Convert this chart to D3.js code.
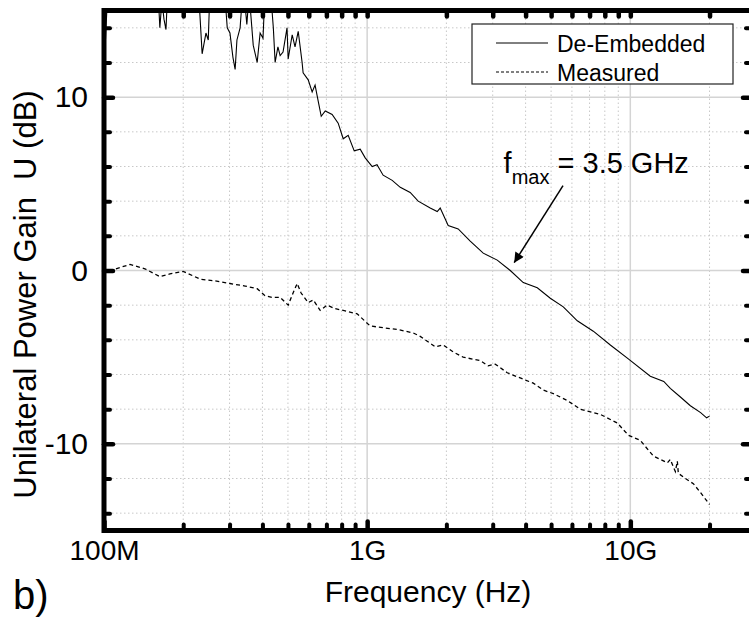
<!DOCTYPE html>
<html>
<head>
<meta charset="utf-8">
<script src="https://cdn.jsdelivr.net/npm/d3@7"></script>
<style>
  body { margin: 0; background: #fff; }
  text { font-family: "Liberation Sans", Arial, sans-serif; fill: #000; }
</style>
</head>
<body>
<div class="content"></div>
<script>
// frequency in GHz, gain in dB
var deFreq = [0.100, 0.101, 0.1036, 0.160, 0.163, 0.166, 0.169, 0.172, 0.175, 0.228, 0.236, 0.244, 0.249, 0.253,
    0.286, 0.294, 0.301, 0.309, 0.315, 0.320, 0.329, 0.338, 0.349, 0.356, 0.369, 0.382, 0.392, 0.402, 0.410,
    0.430, 0.440, 0.447, 0.458, 0.467, 0.479, 0.496, 0.501, 0.519, 0.532, 0.547, 0.566, 0.571, 0.597, 0.618,
    0.634, 0.651, 0.669, 0.693, 0.736, 0.776, 0.811, 0.847, 0.893, 0.941, 0.983, 1.045, 1.09, 1.15, 1.245,
    1.336, 1.457, 1.563, 1.736, 1.846, 1.895, 2.032, 2.218, 2.464, 2.761, 3.121, 3.498, 3.919, 4.431, 4.965,
    5.563, 6.288, 7.233, 8.395, 9.827, 11.91, 13.4, 14.19, 15.5, 16.91, 18.5, 19.5, 20.0];
var deGain = [12.3, 12.9, 16.5, 16.5, 14.0, 15.6, 14.5, 13.9, 16.5, 16.5, 12.5, 13.7, 13.3, 16.5,
    16.5, 14.0, 13.7, 12.3, 11.6, 13.3, 14.0, 16.5, 14.2, 16.0, 13.0, 12.0, 13.7, 13.4, 16.5,
    16.0, 14.0, 12.0, 12.9, 12.4, 12.6, 14.0, 12.2, 13.6, 12.9, 13.8, 12.0, 11.4, 11.0, 10.3,
    10.7, 9.8, 8.9, 9.2, 9.0, 8.5, 7.6, 7.8, 6.9, 7.0, 6.5, 6.0, 6.1, 5.5, 5.2,
    4.8, 4.5, 4.0, 3.6, 3.4, 3.6, 2.6, 2.4, 1.7, 1.0, 0.6, 0.0, -0.7, -1.0, -1.6,
    -2.1, -2.9, -3.5, -4.3, -5.1, -6.1, -6.4, -6.8, -7.3, -7.8, -8.2, -8.5, -8.4];

var msFreq = [0.111, 0.1256, 0.143, 0.163, 0.178, 0.200, 0.232, 0.264, 0.301, 0.344, 0.382, 0.409, 0.435,
    0.467, 0.501, 0.523, 0.542, 0.561, 0.597, 0.624, 0.663, 0.704, 0.755, 0.811, 0.916, 1.027, 1.150,
    1.300, 1.496, 1.591, 1.814, 1.945, 2.123, 2.317, 2.690, 2.884, 3.067, 3.407, 3.816, 4.278, 4.669,
    5.097, 5.761, 6.454, 7.691, 8.925, 9.827, 10.91, 12.23, 13.83, 14.19, 14.83, 15.09, 15.22, 16.19,
    17.36, 18.46, 20.0];
var msGain = [0.1, 0.35, 0.1, -0.35, -0.2, -0.05, -0.5, -0.6, -0.75, -0.9, -1.05, -1.45, -1.55,
    -1.55, -2.0, -1.3, -0.75, -1.3, -1.85, -1.7, -2.3, -2.0, -2.2, -2.3, -2.5, -3.2, -3.3,
    -3.4, -3.6, -3.8, -4.4, -4.3, -4.7, -5.0, -5.2, -5.5, -5.4, -5.9, -6.2, -6.5, -6.9,
    -7.1, -7.5, -8.0, -8.3, -8.8, -9.5, -9.8, -10.7, -11.1, -10.9, -11.6, -11.0, -11.7, -12.0,
    -12.3, -12.8, -13.5];

var xMajor = [0.1, 1, 10];
var xLabels = ["100M", "1G", "10G"];
var xMinor = [0.2, 0.3, 0.4, 0.5, 0.6, 0.7, 0.8, 0.9, 2, 3, 4, 5, 6, 7, 8, 9, 20];
var yMajor = [-10, 0, 10];
var yLabels = ["-10", "0", "10"];
var yMinor = [-14, -12, -8, -6, -4, -2, 2, 4, 6, 8, 12, 14];
var seriesNames = ["De-Embedded", "Measured"];

// set the dimensions and margins of the graph
var margin = {top: 10.5, right: -3, bottom: 87.5, left: 104},
    width = 749 - margin.left - margin.right,
    height = 618 - margin.top - margin.bottom;

var svg = d3.select(".content")
    .append("svg")
    .attr("width", 749)
    .attr("height", 618)
    .append("g")
    .attr("transform", "translate(" + margin.left + "," + margin.top + ")");

var x = d3.scaleLog()
    .domain([0.1, 29])
    .range([0, width]);
var y = d3.scaleLinear()
    .domain([-15, 15])
    .range([height, 0]);

// grid
svg.append("g").selectAll("line").data(xMinor).enter().append("line")
    .attr("x1", function(d) { return x(d); }).attr("x2", function(d) { return x(d); })
    .attr("y1", 0).attr("y2", height)
    .attr("stroke", "#c8c8c8").attr("stroke-dasharray", "1.5,2.5");
svg.append("g").selectAll("line").data(yMinor).enter().append("line")
    .attr("y1", function(d) { return y(d); }).attr("y2", function(d) { return y(d); })
    .attr("x1", 0).attr("x2", width)
    .attr("stroke", "#c8c8c8").attr("stroke-dasharray", "1.5,2.5");
svg.append("g").selectAll("line").data(xMajor.slice(1)).enter().append("line")
    .attr("x1", function(d) { return x(d); }).attr("x2", function(d) { return x(d); })
    .attr("y1", 0).attr("y2", height)
    .attr("stroke", "#d4d4d4").attr("stroke-width", 1.5);
svg.append("g").selectAll("line").data(yMajor).enter().append("line")
    .attr("y1", function(d) { return y(d); }).attr("y2", function(d) { return y(d); })
    .attr("x1", 0).attr("x2", width)
    .attr("stroke", "#d4d4d4").attr("stroke-width", 1.5);

// curves
svg.append("clipPath").attr("id", "clip")
    .append("rect").attr("width", width).attr("height", height);

var line = d3.line()
    .x(function(d) { return x(d[0]); })
    .y(function(d) { return y(d[1]); });

svg.append("path")
    .datum(d3.zip(deFreq, deGain))
    .attr("clip-path", "url(#clip)")
    .attr("fill", "none")
    .attr("stroke", "#000")
    .attr("stroke-width", 1.1)
    .attr("d", line);

svg.append("path")
    .datum(d3.zip(msFreq, msGain))
    .attr("clip-path", "url(#clip)")
    .attr("fill", "none")
    .attr("stroke", "#000")
    .attr("stroke-width", 1.3)
    .attr("stroke-dasharray", "4,3")
    .attr("d", line);

// axes, ticks point inward
function styleAxis(g, w, fs) {
    g.select(".domain").remove();
    g.selectAll(".tick line").attr("stroke", "#000").attr("stroke-width", w).attr("stroke-linecap", "round");
    g.selectAll("text").style("font-size", (fs || 30) + "px");
}

svg.append("g").attr("transform", "translate(0," + height + ")")
    .call(d3.axisBottom(x).tickValues(xMinor).tickSize(-6).tickFormat(""))
    .call(styleAxis, 4);
svg.append("g").attr("transform", "translate(0," + height + ")")
    .call(d3.axisBottom(x).tickValues(xMajor).tickSize(-9).tickPadding(10)
        .tickFormat(function(d, i) { return xLabels[i]; }))
    .call(styleAxis, 4.5, 28);
svg.append("g")
    .call(d3.axisTop(x).tickValues(xMinor.concat(xMajor)).tickSize(-6).tickFormat(""))
    .call(styleAxis, 4.5);
svg.append("g")
    .call(d3.axisLeft(y).tickValues(yMinor).tickSize(-6).tickFormat(""))
    .call(styleAxis, 4);
svg.append("g")
    .call(d3.axisLeft(y).tickValues(yMajor).tickSize(-9).tickPadding(16)
        .tickFormat(function(d, i) { return yLabels[i]; }))
    .call(styleAxis, 4.5, 30);
svg.append("g").attr("transform", "translate(" + width + ",0)")
    .call(d3.axisRight(y).tickValues(yMinor).tickSize(-6).tickFormat(""))
    .call(styleAxis, 4);
svg.append("g").attr("transform", "translate(" + width + ",0)")
    .call(d3.axisRight(y).tickValues(yMajor).tickSize(-9).tickFormat(""))
    .call(styleAxis, 4.5);

svg.append("rect")
    .attr("width", width).attr("height", height)
    .attr("fill", "none").attr("stroke", "#000").attr("stroke-width", 5);

// axis titles
svg.append("text")
    .attr("x", width / 2).attr("y", height + 71)
    .attr("text-anchor", "middle")
    .style("font-size", "30px")
    .text("Frequency (Hz)");
svg.append("text")
    .attr("transform", "translate(-68," + (height / 2 + 24) + ") rotate(-90)")
    .attr("text-anchor", "middle")
    .style("font-size", "31px")
    .text("Unilateral Power Gain\u00a0 U (dB)");
svg.append("text")
    .attr("x", -91).attr("y", height + 78)
    .style("font-size", "40px")
    .text("b)");

// legend
var legend = svg.append("g").attr("transform", "translate(368,13.5)");
legend.append("rect")
    .attr("width", 261).attr("height", 60)
    .attr("fill", "#fff").attr("stroke", "#222").attr("stroke-width", 1.2);
seriesNames.forEach(function(name, i) {
    legend.append("line")
        .attr("x1", 24).attr("x2", 76)
        .attr("y1", 19 + i * 29).attr("y2", 19 + i * 29)
        .attr("stroke", "#000").attr("stroke-width", 1)
        .attr("stroke-dasharray", i ? "3,2" : null);
    legend.append("text")
        .attr("x", 85).attr("y", 27.5 + i * 29)
        .style("font-size", "23px")
        .text(name);
});

// fmax annotation
svg.append("defs").append("marker")
    .attr("id", "arrow")
    .attr("viewBox", "0 0 10 10")
    .attr("refX", 10).attr("refY", 5)
    .attr("markerWidth", 16).attr("markerHeight", 10)
    .attr("markerUnits", "userSpaceOnUse")
    .attr("orient", "auto")
    .append("path").attr("d", "M0,0 L10,5 L0,10 z").attr("fill", "#000");

svg.append("line")
    .attr("x1", x(5.55)).attr("y1", y(4.9))
    .attr("x2", x(3.62)).attr("y2", y(0.45))
    .attr("stroke", "#000").attr("stroke-width", 1.5)
    .attr("marker-end", "url(#arrow)");

var ann = svg.append("text")
    .attr("x", x(3.3)).attr("y", y(5.6))
    .style("font-size", "29px");
ann.append("tspan").text("f");
ann.append("tspan").attr("dy", 11).style("font-size", "20px").text("max");
ann.append("tspan").attr("dy", -11).text(" = 3.5 GHz");
</script>
</body>
</html>
